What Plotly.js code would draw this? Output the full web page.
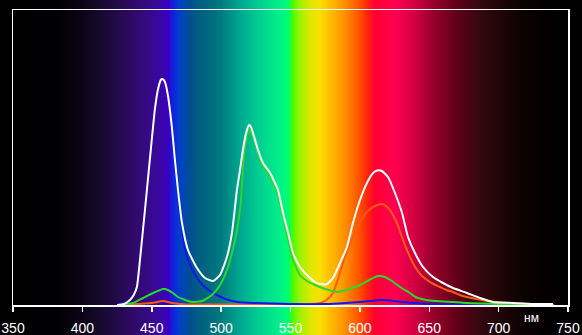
<!DOCTYPE html>
<html>
<head>
<meta charset="utf-8">
<script src="https://cdn.plot.ly/plotly-3.0.1.min.js"></script>
<style>
html,body{margin:0;padding:0;background:#000;}
#chart{width:582px;height:335px;}
</style>
</head>
<body>
<div id="chart"></div>
<script>
// Wavelength axis ticks
const tickVals = [350, 400, 450, 500, 550, 600, 650, 700, 750];
const tickText = ["350", "400", "450", "500", "550", "600", "650", "700", "750"];

// White (total) curve
const whiteWl = [425,430,434.3,437,439.3,441.5,445.1,448.6,452.2,454.4,456.5,457.8,459.5,461.6,464.5,466.7,468.9,471.8,476.1,482.6,488.4,494.1,499.2,504.2,507.8,511.4,513.6,515.7,518,520.1,521.5,523,526.6,530.2,535.3,541,544.6,548.3,551.8,556.8,561.9,567.6,571.3,576.3,580.6,585.7,590.7,595,600.1,605.1,609.5,612.5,615.9,620.3,625.3,630.4,634.7,639.7,645.5,652.7,659.9,667.1,677.2,686.6,696,710.4,724.8,739.2];
const whiteVal = [0,1,5,10,18,45,95,145,195,215,225,226,223,210,178,145,115,82,55,37,27,24,30,48,72,115,135,155,172,180,178,172,155,142,132,115,92,72,52,38,30,23,21,21,27,42,58,82,105,122,132,134.5,134,128,112,92,68,52,38,28,22,17,12,7,3,2,1,1];

// Blue channel
const blueWl = [425,434.3,439.3,441.5,445.1,448.6,452.2,454.4,456.5,457.8,459.5,461.6,464.5,466.7,468.9,471.8,474,477,481.2,486,492,497,503,512,525,550,575,590,600,608,615,622,630,640,650,670,700,735];
const blueVal = [0,5,18,45,95,145,195,215,225,226,223,210,178,140,108,76,56,42,30,21,14,10,6,3,2,1,1,2,3,4,5,4.5,3,2,1,0.5,0.3,0];

// Green channel
const greenWl = [428,436.5,443.7,450.9,458.1,459.5,465.3,468.9,479,486.2,493.4,499.2,504.2,507.8,511.4,514,516.5,519.4,520.1,523,526.6,530.2,535.3,541,544.6,548.3,551.8,556.8,561.9,567.6,575,584,590,600,608,613,618,622,630,636,640,648,655,667,677,700,720,740];
const greenVal = [0,2,7,12,16,16,12,8,3,4,10,20,35,52,75,100,150,174,176,168,152,139,128,110,87,66,45,30,24,20,16,13,15,20,26,29,28,25,17,12,8,5,4,3,2,1,0.5,0];

// Red channel
const redWl = [430,440,450,458,465,475,490,520,550,565,571.3,576,580.6,584,587.8,591,595,598.5,602.2,605.8,609.5,612.7,615.9,618.8,621.7,624.2,626.8,629,631.1,633.6,636.1,638.6,641.2,644.8,648.4,653,657.7,662.4,667.1,672,677.2,684,691.6,698,706.1,713,720.5,730,738];
const redVal = [0,1,2,4,2,0.5,0.5,0.5,0.5,1,2,5,12,25,42,55,68,79,88,94,98,100,101,99,95,89,82,73,65,56,48,41,35,29,25,21,18,15,13,10,8,6,4,3,2,1.5,1,0.5,0.5];

// Spectrum background colour stops (wavelength, colour)
const specWl = [350,385,400,413,427,441,455,462,465,470,478,485,499,514,528,542,549,551,557,565,571,578,589,600,606,611,625,640,655,670,685,700,720,740,750];
const specCol = ["#000000","#020206","#0a0516","#170a30","#250a4c","#320a72","#3a08a0","#3a00c0","#1020e0","#0040c8","#005090","#006080","#00787e","#00a890","#00d090","#00f088","#00ff70","#40ff00","#a0f000","#e0e800","#f8e000","#ffc000","#ff9000","#ff5000","#ff2010","#ff0030","#ff0050","#d00040","#900028","#600018","#380810","#200606","#0a0202","#020000","#000000"];

const W = 582, H = 335;
const M = {l: 13, r: 14, t: 10, b: 30, pad: 0};
const xMin = 350, xMax = 750;
const plotW = W - M.l - M.r;

// Background gradient aligned with the wavelength axis
const stops = specWl.map((wl, i) => {
  const px = M.l + (wl - xMin) / (xMax - xMin) * plotW;
  return specCol[i] + " " + (px / W * 100).toFixed(3) + "%";
});
document.getElementById("chart").style.background =
  "linear-gradient(to right, #000000 0%, " + stops.join(", ") + ", #000000 100%)";

function line(x, y, color, width) {
  return {
    x: x, y: y, type: "scatter", mode: "lines",
    line: {color: color, width: width, shape: "spline", smoothing: 0.5},
    hoverinfo: "skip", showlegend: false
  };
}

const data = [
  line(redWl, redVal, "#ff5a14", 2),
  line(blueWl, blueVal, "#1414f0", 2),
  line(greenWl, greenVal, "#2cd82c", 2),
  line(whiteWl, whiteVal, "#ffffff", 2)
];

const layout = {
  width: W, height: H,
  margin: M,
  paper_bgcolor: "rgba(0,0,0,0)",
  plot_bgcolor: "rgba(0,0,0,0)",
  showlegend: false,
  xaxis: {
    range: [xMin, xMax],
    tickmode: "array", tickvals: tickVals, ticktext: tickText,
    ticks: "outside", ticklen: 5, tickwidth: 1.5, tickcolor: "#ffffff",
    ticklabelstandoff: 5,
    showline: true, linecolor: "#ffffff", linewidth: 1.5, mirror: true,
    showgrid: false, zeroline: false,
    tickfont: {family: "Liberation Sans, Arial, sans-serif", size: 14, color: "#ffffff"},
    fixedrange: true
  },
  yaxis: {
    range: [0, 295],
    showticklabels: false, ticks: "",
    showline: true, linecolor: "#ffffff", linewidth: 1.5, mirror: true,
    showgrid: false, zeroline: false, fixedrange: true
  },
  annotations: [{
    text: "нм", x: 724, y: -0.044, xref: "x", yref: "paper",
    showarrow: false, xanchor: "center", yanchor: "middle",
    font: {family: "Liberation Sans, Arial, sans-serif", size: 12, color: "#ffffff"}
  }]
};

Plotly.newPlot("chart", data, layout, {displayModeBar: false, staticPlot: true});
</script>
</body>
</html>
